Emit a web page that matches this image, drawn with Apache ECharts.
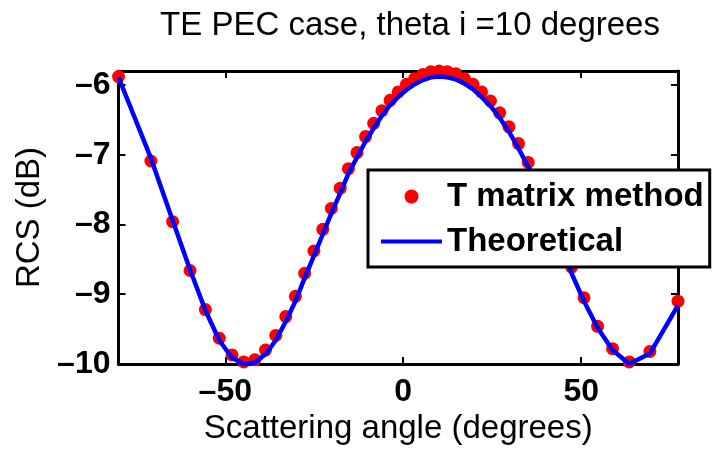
<!DOCTYPE html>
<html>
<head>
<meta charset="utf-8">
<script src="https://cdn.jsdelivr.net/npm/echarts@6/dist/echarts.min.js"></script>
<style>html,body{margin:0;padding:0;background:#fff;}#c{width:714px;height:451px;}</style>
</head>
<body>
<div id="c"></div>
<script>
// Scattering angles (degrees)
var angles = [-80.0, -70.9, -64.8, -59.9, -55.6, -51.7, -48.1, -44.8, -41.7, -38.7,
  -35.8, -33.0, -30.3, -27.7, -25.1, -22.6, -20.2, -17.7, -15.4, -13.0,
  -10.6, -8.3, -6.0, -3.7, -1.4, 0.9, 3.2, 5.5, 7.8, 10.1,
  12.4, 14.8, 17.2, 19.6, 22.0, 24.5, 27.1, 29.7, 32.4, 35.1,
  38.0, 40.9, 44.0, 47.3, 50.8, 54.6, 58.8, 63.5, 69.3, 77.2];
// T matrix method (dB)
var tMatrix = [-5.88, -7.09, -7.96, -8.66, -9.22, -9.63, -9.87, -9.97, -9.94, -9.80,
  -9.59, -9.32, -9.03, -8.70, -8.38, -8.07, -7.77, -7.48, -7.20, -6.97,
  -6.74, -6.55, -6.37, -6.22, -6.10, -5.99, -5.91, -5.85, -5.81, -5.80,
  -5.81, -5.84, -5.91, -5.99, -6.10, -6.23, -6.40, -6.60, -6.84, -7.11,
  -7.43, -7.79, -8.19, -8.61, -9.05, -9.46, -9.78, -9.97, -9.82, -9.10];
// Theoretical (dB)
var theoretical = [-5.89, -7.05, -7.94, -8.65, -9.23, -9.66, -9.91, -10.00, -9.98, -9.86,
  -9.66, -9.39, -9.10, -8.77, -8.45, -8.14, -7.84, -7.55, -7.27, -7.04,
  -6.81, -6.62, -6.44, -6.29, -6.17, -6.07, -5.99, -5.93, -5.89, -5.88,
  -5.89, -5.92, -5.98, -6.06, -6.17, -6.30, -6.47, -6.67, -6.91, -7.17,
  -7.48, -7.85, -8.26, -8.70, -9.10, -9.48, -9.80, -10.00, -9.85, -9.16];
var xTicks = [-50, 0, 50];
var yTicks = [-10, -9, -8, -7, -6];
var xRange = [-80, 77.2];
var yRange = [-10, -5.8];
var titleText = 'TE PEC case, theta i =10 degrees';
var xName = 'Scattering angle (degrees)';
var yName = 'RCS (dB)';
var names = ['T matrix method', 'Theoretical'];

var FONT = "'Liberation Sans', Arial, Helvetica, sans-serif";
function fmt(v) { return v < 0 ? '\u2013' + Math.abs(v) : String(v); }

var chart = echarts.init(document.getElementById('c'), null, {renderer: 'canvas'});
var axisLine = {show: true, onZero: false, lineStyle: {color: '#000', width: 3}};
var tickLine = {color: '#000', width: 2};
// legend icon for the line: a horizontal bar inside an invisible 61x14 frame
var lineIcon = 'path://M0,0L0.01,0L0.01,0.01L0,0.01Z M0,5L61,5L61,9L0,9Z M60.99,13.99L61,13.99L61,14L60.99,14Z';
chart.setOption({
  animation: false,
  backgroundColor: '#fff',
  title: {
    text: titleText, left: 405, top: 4, textAlign: 'center',
    textStyle: {fontFamily: FONT, fontSize: 33, fontWeight: 'normal', color: '#000'}
  },
  grid: {left: 118.5, right: 36, top: 71, bottom: 87, containLabel: false},
  legend: {
    data: [{name: names[0], icon: 'circle'}, {name: names[1], icon: lineIcon}],
    orient: 'vertical', left: 368, top: 170,
    backgroundColor: '#fff', borderColor: '#000', borderWidth: 3, borderRadius: 0,
    padding: [10, 6, 9, 13], itemGap: 12, itemWidth: 61, itemHeight: 14,
    textStyle: {fontFamily: FONT, fontSize: 33, fontWeight: 'bold', color: '#000', lineHeight: 32}
  },
  xAxis: [{
    type: 'value', min: xRange[0], max: xRange[1], position: 'bottom',
    name: xName, nameLocation: 'middle', nameGap: 48,
    nameTextStyle: {fontFamily: FONT, fontSize: 33, color: '#000'},
    axisLine: axisLine, splitLine: {show: false},
    axisTick: {show: true, inside: true, length: 7, customValues: xTicks, lineStyle: tickLine},
    axisLabel: {show: true, customValues: xTicks, formatter: fmt, margin: 12,
      fontFamily: FONT, fontSize: 32, fontWeight: 'bold', color: '#000'}
  }, {
    type: 'value', min: xRange[0], max: xRange[1], position: 'top',
    axisLine: axisLine, splitLine: {show: false},
    axisTick: {show: true, inside: true, length: 7, customValues: xTicks, lineStyle: tickLine},
    axisLabel: {show: false}
  }],
  yAxis: [{
    type: 'value', min: yRange[0], max: yRange[1], position: 'left',
    name: yName, nameLocation: 'middle', nameGap: 72,
    nameTextStyle: {fontFamily: FONT, fontSize: 33, color: '#000'},
    axisLine: axisLine, splitLine: {show: false},
    axisTick: {show: true, inside: true, length: 7, customValues: yTicks, lineStyle: tickLine},
    axisLabel: {show: true, customValues: yTicks, formatter: fmt, margin: 8,
      fontFamily: FONT, fontSize: 32, fontWeight: 'bold', color: '#000'}
  }, {
    type: 'value', min: yRange[0], max: yRange[1], position: 'right',
    axisLine: axisLine, splitLine: {show: false},
    axisTick: {show: true, inside: true, length: 7, customValues: yTicks, lineStyle: tickLine},
    axisLabel: {show: false}
  }],
  series: [{
    name: names[0], type: 'scatter', xAxisIndex: 0, yAxisIndex: 0,
    data: angles.map(function (a, i) { return [a, tMatrix[i]]; }),
    symbol: 'circle', symbolSize: 13, clip: false, z: 2,
    itemStyle: {color: '#ff0000', opacity: 1}
  }, {
    name: names[1], type: 'line', xAxisIndex: 0, yAxisIndex: 0,
    data: angles.map(function (a, i) { return [a, theoretical[i]]; }),
    showSymbol: false, symbol: 'none', clip: false, z: 3,
    lineStyle: {color: '#0000ff', width: 4.5}, itemStyle: {color: '#0000ff'}
  }]
});
</script>
</body>
</html>
